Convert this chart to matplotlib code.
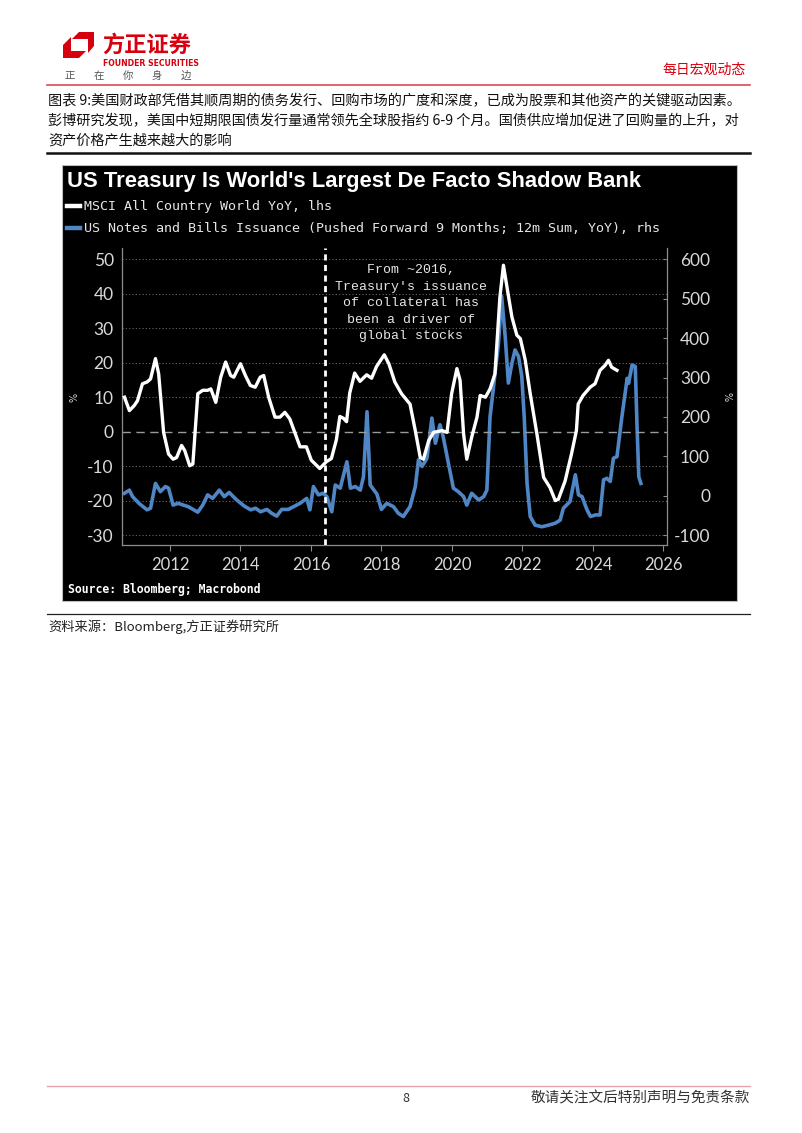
import matplotlib
matplotlib.use('Agg')
import matplotlib.pyplot as plt
from matplotlib.lines import Line2D
from matplotlib.patches import Polygon, Rectangle

W, H = 802, 1133

# MSCI All Country World YoY (%), lhs
msci_year = [2010.71, 2010.85, 2010.99, 2011.08, 2011.22, 2011.35, 2011.45, 2011.59, 2011.68, 2011.82,
             2011.96, 2012.09, 2012.19, 2012.33, 2012.42, 2012.56, 2012.65, 2012.79, 2012.93, 2013.07,
             2013.16, 2013.30, 2013.44, 2013.58, 2013.72, 2013.81, 2014.00, 2014.14, 2014.28, 2014.42,
             2014.56, 2014.66, 2014.80, 2014.98, 2015.12, 2015.26, 2015.40, 2015.59, 2015.69, 2015.87,
             2016.01, 2016.25, 2016.44, 2016.58, 2016.72, 2016.82, 2016.92, 2017.01, 2017.10, 2017.24,
             2017.39, 2017.58, 2017.72, 2017.86, 2018.08, 2018.21, 2018.38, 2018.57, 2018.81, 2018.96,
             2019.10, 2019.19, 2019.34, 2019.48, 2019.72, 2019.86, 2019.99, 2020.14, 2020.23, 2020.33,
             2020.42, 2020.56, 2020.71, 2020.80, 2020.95, 2021.08, 2021.22, 2021.36, 2021.46, 2021.56,
             2021.70, 2021.84, 2021.94, 2022.08, 2022.22, 2022.41, 2022.60, 2022.78, 2022.93, 2023.02,
             2023.21, 2023.39, 2023.53, 2023.58, 2023.72, 2023.92, 2024.06, 2024.20, 2024.34, 2024.44,
             2024.53, 2024.68]
msci_yoy = [10, 6.1, 7.6, 9, 13.9, 14.4, 15.3, 21.2, 16.8, -0.2,
            -6.5, -8, -7.5, -4, -5.5, -9.9, -9.4, 11, 12, 12,
            12.4, 8.5, 15.8, 20.2, 16.3, 15.8, 19.7, 16.3, 13.4, 12.9,
            15.8, 16.3, 10, 4.2, 4.2, 5.6, 3.7, -1.6, -4.4, -4.4,
            -8.3, -10.7, -8.7, -7.8, -2.4, 4.4, 3.9, 2.9, 11.2, 17,
            14.6, 16.5, 15.5, 18.9, 22.3, 19.7, 14.4, 11, 8, 0.3,
            -7.5, -8, -2.6, -0.2, 0.3, -0.2, 11, 18.3, 14.9, -0.7,
            -8, -1.6, 4.2, 10.5, 10, 12.4, 16.8, 39, 48.3, 42,
            33.3, 28, 27, 20.7, 11, -0.7, -13.3, -16.2, -20, -19.6,
            -14.3, -6.5, 0.3, 8, 10.5, 12.9, 13.9, 17.8, 19.2, 20.7,
            18.7, 17.8]

# US Notes and Bills Issuance (pushed forward 9 months; 12m sum, YoY, %), rhs
issuance_year = [2010.71, 2010.85, 2010.94, 2011.12, 2011.35, 2011.45, 2011.59, 2011.73, 2011.87, 2011.96,
                 2012.09, 2012.23, 2012.38, 2012.52, 2012.79, 2012.93, 2013.07, 2013.21, 2013.40, 2013.54,
                 2013.68, 2013.87, 2014.10, 2014.29, 2014.43, 2014.57, 2014.75, 2014.89, 2015.03, 2015.17,
                 2015.36, 2015.55, 2015.69, 2015.88, 2015.97, 2016.07, 2016.21, 2016.35, 2016.45, 2016.59,
                 2016.69, 2016.83, 2017.02, 2017.12, 2017.26, 2017.40, 2017.49, 2017.59, 2017.68, 2017.87,
                 2018.00, 2018.15, 2018.34, 2018.48, 2018.62, 2018.81, 2018.96, 2019.05, 2019.15, 2019.29,
                 2019.43, 2019.53, 2019.66, 2019.75, 2019.90, 2020.04, 2020.18, 2020.33, 2020.42, 2020.56,
                 2020.71, 2020.76, 2020.90, 2020.99, 2021.08, 2021.17, 2021.32, 2021.41, 2021.51, 2021.60,
                 2021.70, 2021.79, 2021.89, 2021.98, 2022.05, 2022.13, 2022.22, 2022.36, 2022.55, 2022.74,
                 2022.93, 2023.07, 2023.16, 2023.35, 2023.50, 2023.59, 2023.69, 2023.83, 2023.93, 2024.07,
                 2024.20, 2024.30, 2024.39, 2024.49, 2024.58, 2024.68, 2024.82, 2024.97, 2025.01, 2025.11,
                 2025.20, 2025.25, 2025.30, 2025.36]
issuance_yoy = [6, 14, -2.5, -19.5, -36, -32, 31, 10, 23, 19,
                -24, -19.5, -24, -28, -42, -24, 2, -7, 14, -2.5,
                8, -9, -26, -36, -32, -41, -35, -45, -52, -35,
                -35, -26, -19.5, -7, -36, 23, 2, 6, -2.5, -41,
                27, 19, 86, 19, 23, 14, 48, 213, 27, 4,
                -35, -19.5, -28, -45, -53, -28, 23, 91, 74, 95,
                197, 133, 180, 150, 82, 19, 10, -2.5, -24, 6,
                -7, -11, -2.5, 14, 200, 269, 387, 506, 404, 286,
                336, 370, 353, 303, 200, 31, -53, -75, -79, -75,
                -70, -62, -32, -15, 53, 2, -2.5, -36, -53, -49,
                -49, 40, 44, 36, 95, 99, 200, 298, 285, 332,
                328, 175, 48, 31]

year_ticks = [2012, 2014, 2016, 2018, 2020, 2022, 2024, 2026]
lhs_ticks = [-30, -20, -10, 0, 10, 20, 30, 40, 50]
rhs_ticks = [-100, 0, 100, 200, 300, 400, 500, 600]
marker_year = 2016.4

header_lines = [
    '图表 9:美国财政部凭借其顺周期的债务发行、回购市场的广度和深度，已成为股票和其他资产的关键驱动因素。',
    '彭博研究发现，美国中短期限国债发行量通常领先全球股指约 6-9 个月。国债供应增加促进了回购量的上升，对',
    '资产价格产生越来越大的影响',
]

plt.rcParams['font.family'] = ['Noto Sans CJK SC', 'DejaVu Sans']
plt.rcParams['axes.unicode_minus'] = False

RED = '#d7000f'
BLUE = '#4f86c6'
TICK_GREY = '#d9d9d9'
SPINE_GREY = '#8c8c8c'


def fx(x):
    return x / W


def fy(y):
    return 1 - y / H


def hline(fig, y, x0, x1, color, lw):
    fig.add_artist(Line2D([fx(x0), fx(x1)], [fy(y), fy(y)], color=color, lw=lw,
                          transform=fig.transFigure))


fig = plt.figure(figsize=(W / 100, H / 100), dpi=100)
fig.patch.set_facecolor('white')

# page header: logo and section name
logo_a = [(63, 45), (71, 37), (71, 51), (86, 51), (79, 58), (63, 58)]
logo_b = [(79, 32), (94, 32), (94, 46), (88, 53), (88, 39), (72, 39)]
for pts in (logo_a, logo_b):
    fig.add_artist(Polygon([(fx(x), fy(y)) for x, y in pts], closed=True, facecolor=RED,
                           edgecolor='none', transform=fig.transFigure))
fig.text(fx(102), fy(45), '方正证券', color=RED, fontsize=16, fontweight='bold', va='center', ha='left')
fig.text(fx(103), fy(63), 'FOUNDER SECURITIES', color=RED, fontsize=5.6, fontweight='bold',
         family='DejaVu Sans', va='center', ha='left')
for i, ch in enumerate('正在你身边'):
    fig.text(fx(70 + i * 29), fy(76), ch, color='#555555', fontsize=7.5, va='center', ha='center')
fig.text(fx(746), fy(70), '每日宏观动态', color=RED, fontsize=10, va='center', ha='right')
hline(fig, 85, 47, 750, '#d94a5c', 1.2)

# figure caption
for i, line in enumerate(header_lines):
    fig.text(fx(48), fy(101 + i * 20), line, color='#111111', fontsize=10.2, va='center', ha='left')
hline(fig, 153, 47, 750, '#111111', 1.8)

# chart panel background (kept behind both axes)
fig.add_artist(Rectangle((fx(62), fy(601)), fx(737) - fx(62), fy(165) - fy(601),
                         facecolor='black', edgecolor='#bdbdbd', lw=0.8, transform=fig.transFigure,
                         zorder=-5))

fig.text(fx(67), fy(181), "US Treasury Is World's Largest De Facto Shadow Bank", color='white',
         fontsize=15.8, fontweight='bold', family='Liberation Sans', va='center', ha='left')
legend_items = [('MSCI All Country World YoY, lhs', 'white', 206),
                ('US Notes and Bills Issuance (Pushed Forward 9 Months; 12m Sum, YoY), rhs', BLUE, 228)]
for label, color, y in legend_items:
    fig.add_artist(Line2D([fx(67), fx(80)], [fy(y), fy(y)], color=color, lw=3.2,
                          transform=fig.transFigure))
    fig.text(fx(84), fy(y), label, color='#e6e6e6', fontsize=9.6, family='DejaVu Sans Mono',
             va='center', ha='left')

ax = fig.add_axes([fx(122), fy(545), fx(667) - fx(122), fy(248) - fy(545)])
ax2 = ax.twinx()
ax.set_zorder(ax2.get_zorder() + 1)
ax.patch.set_visible(False)
ax2.patch.set_visible(False)

ax.set_xlim(2010.64, 2026.1)
ax.set_ylim(-32.9, 53.3)
ax2.set_ylim(162.5 + 8.75 * -32.9, 162.5 + 8.75 * 53.3)

for v in lhs_ticks:
    if v == 0:
        ax.axhline(v, color='#9a9a9a', lw=1.0, ls=(0, (6, 4)), zorder=1)
    else:
        ax.axhline(v, color='#6a6a6a', lw=0.8, ls=(0, (1, 2)), zorder=1)

ax2.plot(issuance_year, issuance_yoy, color=BLUE, lw=2.6, solid_joinstyle='round')
ax.plot(msci_year, msci_yoy, color='white', lw=2.4, solid_joinstyle='round', zorder=3)
ax.axvline(marker_year, color='white', lw=2.0, ls=(0, (2.2, 1.6)), zorder=4)

ax.text(2018.84, 37.2, "From ~2016,\nTreasury's issuance\nof collateral has\nbeen a driver of\nglobal stocks",
        color='#e6e6e6', fontsize=9.5, family='Liberation Mono', ha='center', va='center',
        multialignment='center', linespacing=1.5)

ax.set_xticks(year_ticks)
ax.set_xticklabels([str(y) for y in year_ticks])
ax.set_yticks(lhs_ticks)
ax.set_yticklabels([str(v) for v in lhs_ticks])
ax2.set_yticks(rhs_ticks)
ax2.set_yticklabels([str(v) for v in rhs_ticks])

ax.tick_params(axis='x', colors=SPINE_GREY, labelcolor=TICK_GREY, labelsize=12, length=4, pad=5)
ax.tick_params(axis='y', labelcolor=TICK_GREY, labelsize=12.5, length=0, pad=6)
ax2.tick_params(axis='y', colors=SPINE_GREY, labelcolor=TICK_GREY, labelsize=12.5, length=3,
                direction='in', pad=31)
for lab in ax.get_xticklabels() + ax.get_yticklabels() + ax2.get_yticklabels():
    lab.set_family('Lato')
for lab in ax2.get_yticklabels():
    lab.set_horizontalalignment('right')

for a in (ax, ax2):
    a.spines['top'].set_visible(False)
    for side in ('left', 'right', 'bottom'):
        a.spines[side].set_color(SPINE_GREY)
        a.spines[side].set_linewidth(0.9)
ax.spines['right'].set_visible(False)
ax2.spines['left'].set_visible(False)
ax2.spines['bottom'].set_visible(False)

fig.text(fx(75), fy(397), '%', color=TICK_GREY, fontsize=7, rotation=90, va='center', ha='center',
         family='DejaVu Sans')
fig.text(fx(726), fy(397), '%', color=TICK_GREY, fontsize=7, rotation=-90, va='center', ha='center',
         family='DejaVu Sans')
fig.text(fx(68), fy(590), 'Source: Bloomberg; Macrobond', color='white', fontsize=8.3,
         fontweight='bold', family='DejaVu Sans Mono', va='center', ha='left')

# source note under the chart
hline(fig, 614, 47, 750, '#222222', 0.9)
fig.text(fx(48), fy(627), '资料来源：Bloomberg,方正证券研究所', color='#222222', fontsize=9.5,
         style='italic', va='center', ha='left')

# page footer
hline(fig, 1086, 47, 750, '#e8a0ae', 1.0)
fig.text(fx(406), fy(1098), '8', color='#333333', fontsize=9, va='center', ha='center')
fig.text(fx(750), fy(1098), '敬请关注文后特别声明与免责条款', color='#333333', fontsize=10.5,
         va='center', ha='right')

fig.savefig('out.png', dpi=100, facecolor='white')
